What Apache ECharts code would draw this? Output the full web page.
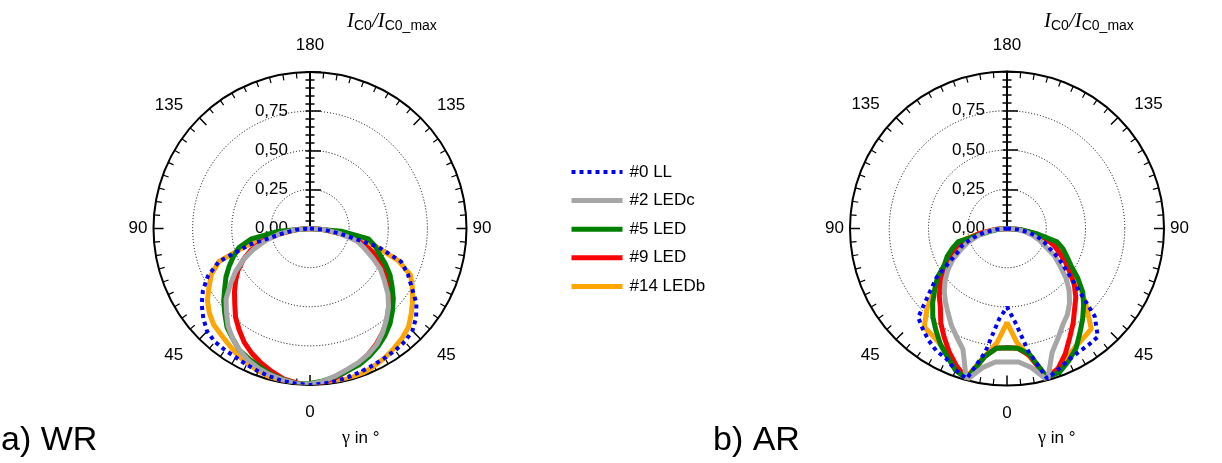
<!DOCTYPE html>
<html>
<head>
<meta charset="utf-8">
<script src="https://cdn.jsdelivr.net/npm/echarts@6/dist/echarts.min.js"></script>
<style>
  html, body { margin: 0; padding: 0; background: #fff; }
  #chart { width: 1222px; height: 463px; }
</style>
</head>
<body>
<div id="chart"></div>
<script>
// gamma in degrees: negative = right half, positive = left half
const angles = [-90, -85, -80, -75, -70, -65, -60, -55, -50, -45, -40, -35, -30, -25, -20, -15, -10, -5,
  0, 5, 10, 15, 20, 25, 30, 35, 40, 45, 50, 55, 60, 65, 70, 75, 80, 85, 90]

const seriesNames = ["#0 LL", "#2 LEDc", "#5 LED", "#9 LED", "#14 LEDb"]

// a) WR
const wrLL = [0, .09, .2, .45, .62, .69, .75, .83, .885, .925, .943, .95, .955, .962, .97, .98, .99, .995,
  1, .995, .99, .98, .97, .96, .95, .948, .945, .93, .89, .845, .79, .72, .62, .4, .17, .09, 0]
const wrLEDc = [0, .1, .2, .31, .37, .44, .52, .58, .65, .71, .76, .81, .855, .885, .91, .93, .955, .98,
  .995, .995, .983, .97, .953, .93, .9, .86, .815, .755, .7, .62, .55, .47, .38, .29, .2, .1, 0]
const wrLED5 = [0, .2, .38, .43, .47, .53, .59, .64, .695, .745, .795, .835, .87, .9, .925, .94, .96, .978,
  .99, .995, .98, .965, .94, .92, .9, .86, .825, .77, .72, .665, .62, .57, .52, .47, .38, .2, 0]
const wrLED9 = [0, .1, .22, .33, .42, .49, .55, .6, .655, .71, .765, .81, .85, .885, .915, .94, .965, .985,
  1, .99, .975, .945, .915, .88, .84, .79, .74, .68, .63, .58, .53, .47, .4, .31, .21, .1, 0]
const wrLEDb = [0, .09, .2, .43, .6, .71, .755, .8, .845, .89, .915, .935, .955, .97, .985, .99, .995, 1,
  1, 1, .993, .982, .968, .948, .93, .905, .885, .87, .84, .8, .745, .695, .62, .42, .18, .09, 0]

// b) AR
const arLL = [0, .07, .14, .2, .25, .3, .38, .46, .58, .79, .9, .905, .91, .925, .955, .99, .8, .6,
  .5, .58, .8, .99, .96, .915, .9, .87, .835, .8, .65, .55, .42, .34, .3, .22, .15, .07, 0]
const arLEDc = [0, .06, .12, .17, .22, .27, .35, .41, .49, .56, .62, .67, .71, .77, .84, 1, .9, .853,
  .85, .853, .9, 1, .82, .76, .71, .655, .61, .565, .515, .46, .4, .33, .27, .2, .14, .07, 0]
const arLED5 = [0, .09, .19, .33, .38, .42, .47, .55, .63, .69, .75, .81, .88, .93, .975, .98, .81, .765,
  .76, .765, .83, .99, .96, .9, .85, .79, .735, .67, .6, .54, .46, .42, .37, .32, .12, .05, 0]
const arLED9 = [0, .08, .17, .26, .32, .37, .43, .49, .56, .62, .67, .735, .8, .88, .95, .99, .82, .765,
  .76, .765, .83, .99, .935, .87, .8, .735, .66, .61, .555, .5, .45, .4, .34, .27, .17, .08, 0]
const arLEDb = [0, .08, .18, .3, .35, .4, .46, .53, .62, .72, .835, .85, .87, .91, .95, .97, .83, .73,
  .6, .73, .83, .97, .95, .9, .85, .83, .82, .72, .6, .52, .46, .41, .36, .3, .17, .08, 0]

const radiusTicks = [0, 0.25, 0.5, 0.75, 1]

const font = "Arial, 'Liberation Sans', sans-serif"
const serif = "'Liberation Serif', 'Times New Roman', serif"

// polar centres / radii of the two diagrams
const centers = [[310, 228.5], [1007, 228.5]]
const radii = [156.5, 157]

let myChart = echarts.init(document.getElementById("chart"))

function toPairs(rs) {
  return angles.map((a, i) => [rs[i], a])
}

function angleLabel(v) {
  let a = Math.abs(v)
  let key = "m"
  if (a === 180) key = "t"
  else if (a === 0) key = "b"
  else if (a === 135) key = v > 0 ? "ul" : "ur"
  else if (a === 45) key = v > 0 ? "ll" : "lr"
  return "{" + key + "|" + a + "}"
}

const angleRich = {
  t: { padding: [0, 0, 12, 0] },
  b: { padding: [13, 0, 0, 0] },
  ul: { padding: [0, 12, 0, 0] },
  ur: { padding: [0, 0, 0, 12] },
  ll: { padding: [3, 12, 0, 0] },
  lr: { padding: [3, 0, 0, 12] },
  m: {},
}

function angleAxis(idx) {
  return {
    polarIndex: idx,
    type: "value",
    min: -180,
    max: 180,
    interval: 45,
    startAngle: 90,
    clockwise: true,
    axisLine: { lineStyle: { color: "#000", width: 2 } },
    axisTick: { inside: true, length: 10, lineStyle: { color: "#000", width: 1.5 } },
    minorTick: { show: true, splitNumber: 9, length: 6, lineStyle: { color: "#000", width: 1.2 } },
    axisLabel: {
      margin: 6,
      color: "#000",
      fontSize: 17,
      fontFamily: font,
      formatter: angleLabel,
      rich: angleRich,
    },
    splitLine: { show: false },
  }
}

// radius ruler: left half of the ticks + labels
function radiusAxis(idx) {
  return {
    polarIndex: idx,
    type: "value",
    min: radiusTicks[0],
    max: radiusTicks[radiusTicks.length - 1],
    interval: 0.25,
    axisLine: { lineStyle: { color: "#000", width: 2 } },
    axisTick: { show: true, length: 4.5, lineStyle: { color: "#000", width: 1.5 } },
    minorTick: { show: true, splitNumber: 5, length: 4.5, lineStyle: { color: "#000", width: 1.5 } },
    axisLabel: {
      margin: 22,
      color: "#000",
      fontSize: 17,
      fontFamily: font,
      formatter: (v) => (v >= 1 ? "" : v.toFixed(2).replace(".", ",")),
    },
    splitLine: { show: true, lineStyle: { color: "#000", width: 1, type: [1, 2] } },
  }
}

// right half of the ruler ticks, on a thin grid placed over the radius axis
function rulerGrid(i) {
  return { left: centers[i][0], top: centers[i][1] - radii[i], width: 10, height: radii[i] }
}

function rulerY(i) {
  return {
    gridIndex: i,
    type: "value",
    min: 0,
    max: 1,
    interval: 0.25,
    position: "left",
    axisLine: { show: false },
    axisTick: { show: true, inside: true, length: 11, lineStyle: { color: "#000", width: 1.5 } },
    minorTick: { show: true, splitNumber: 5, length: 4.5, lineStyle: { color: "#000", width: 1.5 } },
    axisLabel: { show: false },
    splitLine: { show: false },
  }
}

function rulerX(i) {
  return { gridIndex: i, type: "value", show: false }
}

function makeSeries(name, data, polarIndex, style) {
  return {
    name: name,
    type: "line",
    coordinateSystem: "polar",
    polarIndex: polarIndex,
    symbol: "none",
    data: toPairs(data),
    lineStyle: style,
    itemStyle: { color: style.color },
    z: 3,
  }
}

const styles = {
  "#0 LL": { color: "#0000ff", width: 4, type: [4, 4], cap: "butt" },
  "#2 LEDc": { color: "#a6a6a6", width: 5 },
  "#5 LED": { color: "#008000", width: 5 },
  "#9 LED": { color: "#ff0000", width: 5 },
  "#14 LEDb": { color: "#ffa500", width: 5 },
}

const titleRich = {
  i: { fontFamily: serif, fontStyle: "italic", fontWeight: "normal", fontSize: 21, color: "#000" },
  s: { fontFamily: font, fontWeight: "normal", fontSize: 14, color: "#000", padding: [9, 0, 0, 0] },
}

const gammaRich = {
  g: { fontFamily: serif, fontSize: 18, color: "#000" },
  t: { fontFamily: font, fontSize: 17, color: "#000" },
}

const plainText = { fontSize: 17, fontWeight: "normal", fontFamily: font, color: "#000", rich: gammaRich }
const bigText = { fontSize: 34, fontWeight: "normal", fontFamily: font, color: "#000" }

myChart.setOption({
  animation: false,
  backgroundColor: "#fff",
  title: [
    { text: "{i|I}{s|C0}{i|/I}{s|C0_max}", left: 347, top: 10, padding: 0, textStyle: { fontWeight: "normal", rich: titleRich } },
    { text: "{i|I}{s|C0}{i|/I}{s|C0_max}", left: 1044, top: 10, padding: 0, textStyle: { fontWeight: "normal", rich: titleRich } },
    { text: "{g|γ}{t| in °}", left: 342, top: 429, padding: 0, textStyle: plainText },
    { text: "{g|γ}{t| in °}", left: 1038, top: 429, padding: 0, textStyle: plainText },
    { text: "a) WR", left: 1, top: 424, padding: 0, textStyle: bigText },
    { text: "b) AR", left: 713, top: 424, padding: 0, textStyle: bigText },
  ],
  legend: {
    orient: "vertical",
    left: 569,
    top: 163.5,
    padding: 0,
    itemWidth: 51,
    itemHeight: 14,
    itemGap: 11.6,
    data: seriesNames,
    itemStyle: { color: "transparent", borderColor: "transparent", borderWidth: 0 },
    lineStyle: { width: "inherit", type: "inherit" },
    textStyle: { fontSize: 17, fontFamily: font, color: "#000", padding: [0, 0, 0, 2] },
  },
  polar: [
    { center: centers[0], radius: radii[0] },
    { center: centers[1], radius: radii[1] },
  ],
  angleAxis: [angleAxis(0), angleAxis(1)],
  radiusAxis: [radiusAxis(0), radiusAxis(1)],
  grid: [rulerGrid(0), rulerGrid(1)],
  xAxis: [rulerX(0), rulerX(1)],
  yAxis: [rulerY(0), rulerY(1)],
  series: [
    makeSeries("#14 LEDb", wrLEDb, 0, styles["#14 LEDb"]),
    makeSeries("#9 LED", wrLED9, 0, styles["#9 LED"]),
    makeSeries("#5 LED", wrLED5, 0, styles["#5 LED"]),
    makeSeries("#2 LEDc", wrLEDc, 0, styles["#2 LEDc"]),
    makeSeries("#0 LL", wrLL, 0, styles["#0 LL"]),
    makeSeries("#14 LEDb", arLEDb, 1, styles["#14 LEDb"]),
    makeSeries("#9 LED", arLED9, 1, styles["#9 LED"]),
    makeSeries("#5 LED", arLED5, 1, styles["#5 LED"]),
    makeSeries("#2 LEDc", arLEDc, 1, styles["#2 LEDc"]),
    makeSeries("#0 LL", arLL, 1, styles["#0 LL"]),
  ],
})

window.addEventListener("resize", () => {
  myChart.resize()
})
</script>
</body>
</html>
